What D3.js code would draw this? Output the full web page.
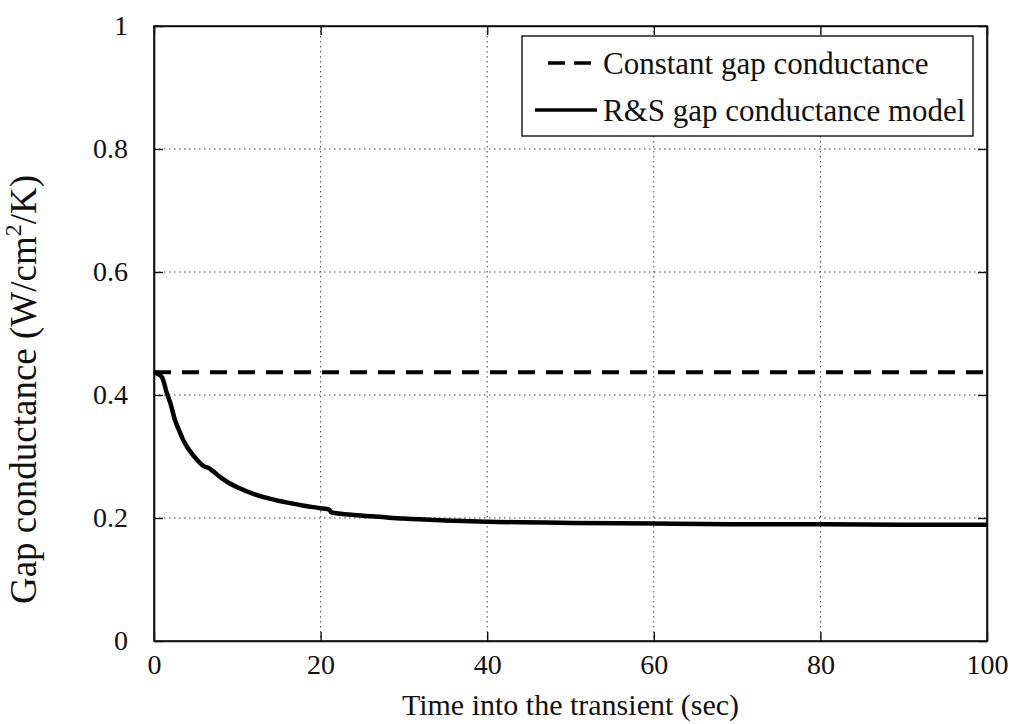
<!DOCTYPE html>
<html>
<head>
<meta charset="utf-8">
<script src="https://cdn.jsdelivr.net/npm/d3@7"></script>
<style>
  body { margin: 0; background: #fff; }
  .grid line { stroke: #444; stroke-width: 1; stroke-dasharray: 1.5, 3.5; }
</style>
</head>
<body>
<div id="chart"></div>
<script>

var serif = "'Liberation Serif', 'Times New Roman', Times, 'DejaVu Serif', serif";

// R&S gap conductance model
var times = [0, 0.5, 1, 1.5, 2, 2.5, 3, 3.5, 4, 5, 6, 6.6, 7, 8, 9, 10, 12, 14, 16, 18, 20, 21, 21.3, 24, 27, 30, 35, 40, 50, 60, 70, 80, 90, 100];
var modelValues = [0.437, 0.434, 0.428, 0.405, 0.385, 0.36, 0.343, 0.327, 0.315, 0.297, 0.284, 0.281, 0.277, 0.266, 0.257, 0.250, 0.239, 0.231, 0.225, 0.220, 0.216, 0.214, 0.209, 0.205, 0.202, 0.199, 0.196, 0.194, 0.192, 0.191, 0.190, 0.190, 0.189, 0.189];

// constant gap conductance
var constantValue = 0.437;

var xTicks = [0, 20, 40, 60, 80, 100];
var yTicks = [0, 0.2, 0.4, 0.6, 0.8, 1];
var legendLabels = ["Constant gap conductance", "R&S gap conductance model"];

var margin = {top: 26, right: 24, bottom: 83, left: 154};
var width = 1011 - margin.left - margin.right,
    height = 724 - margin.top - margin.bottom;

var svg = d3.select("#chart").append("svg")
    .attr("width", 1011)
    .attr("height", 724)
    .attr("font-family", serif)
    .append("g")
    .attr("transform", "translate(" + margin.left + "," + margin.top + ")");

var x = d3.scaleLinear().domain([0, 100]).range([0, width]);
var y = d3.scaleLinear().domain([0, 1]).range([height, 0]);

// grid
var grid = svg.append("g").attr("class", "grid");
grid.selectAll(".gx")
    .data(xTicks.slice(1, -1))
    .enter().append("line")
    .attr("x1", function(d) { return x(d); })
    .attr("x2", function(d) { return x(d); })
    .attr("y1", 0)
    .attr("y2", height);
grid.selectAll(".gy")
    .data(yTicks.slice(1, -1))
    .enter().append("line")
    .attr("x1", 0)
    .attr("x2", width)
    .attr("y1", function(d) { return y(d); })
    .attr("y2", function(d) { return y(d); });

// axes (ticks point inward, on all four sides)
var xAxis = d3.axisBottom(x).tickValues(xTicks).tickSizeInner(-9).tickSizeOuter(0).tickPadding(13)
    .tickFormat(d3.format("d"));
var yAxis = d3.axisLeft(y).tickValues(yTicks).tickSizeInner(-9).tickSizeOuter(0).tickPadding(26)
    .tickFormat(function(d) { return d === 0 || d === 1 ? d : d.toFixed(1); });

svg.append("g")
    .attr("transform", "translate(0," + height + ")")
    .call(xAxis);
svg.append("g").call(yAxis);

svg.append("g")
    .call(d3.axisTop(x).tickValues(xTicks).tickSizeInner(-9).tickSizeOuter(0).tickFormat(""));
svg.append("g")
    .attr("transform", "translate(" + width + ",0)")
    .call(d3.axisRight(y).tickValues(yTicks).tickSizeInner(-9).tickSizeOuter(0).tickFormat(""));

svg.selectAll(".domain").attr("stroke", "#111").attr("stroke-width", 1.6);
svg.selectAll(".tick line").attr("stroke", "#111").attr("stroke-width", 1.4);
svg.selectAll(".tick text")
    .attr("font-family", serif)
    .style("font-size", "28px")
    .attr("fill", "#111");
svg.selectAll("g").attr("font-family", serif);

// frame
svg.append("rect")
    .attr("width", width)
    .attr("height", height)
    .attr("fill", "none")
    .attr("stroke", "#111")
    .attr("stroke-width", 1.6);

// constant line
svg.append("line")
    .attr("x1", x(0))
    .attr("x2", x(100))
    .attr("y1", y(constantValue))
    .attr("y2", y(constantValue))
    .attr("stroke", "#000")
    .attr("stroke-width", 4)
    .attr("stroke-dasharray", "17,11");

// model curve
var line = d3.line()
    .curve(d3.curveMonotoneX)
    .x(function(d, i) { return x(times[i]); })
    .y(function(d) { return y(d); });

svg.append("path")
    .datum(modelValues)
    .attr("fill", "none")
    .attr("stroke", "#000")
    .attr("stroke-width", 4.5)
    .attr("stroke-linejoin", "round")
    .attr("d", line);

// axis labels
svg.append("text")
    .attr("x", width / 2)
    .attr("y", height + 74)
    .attr("text-anchor", "middle")
    .attr("font-family", serif)
    .attr("fill", "#111")
    .style("font-size", "30px")
    .text("Time into the transient (sec)");

var yTitle = svg.append("text")
    .attr("transform", "translate(" + (-118) + "," + (height / 2 + 56) + ") rotate(-90)")
    .attr("text-anchor", "middle")
    .attr("font-family", serif)
    .attr("fill", "#111")
    .style("font-size", "37px");
yTitle.append("tspan").text("Gap conductance (W/cm");
yTitle.append("tspan").attr("dy", -15).style("font-size", "24px").text("2");
yTitle.append("tspan").attr("dy", 15).text("/K)");

// legend
var legend = svg.append("g")
    .attr("transform", "translate(" + (522 - margin.left) + "," + (36 - margin.top) + ")");
legend.append("rect")
    .attr("width", 451)
    .attr("height", 100)
    .attr("fill", "#fff")
    .attr("stroke", "#111")
    .attr("stroke-width", 1.4);

var rows = legend.selectAll(".row")
    .data(legendLabels)
    .enter().append("g")
    .attr("transform", function(d, i) { return "translate(0," + (27 + i * 47) + ")"; });
rows.append("line")
    .attr("x1", function(d, i) { return i === 0 ? 26 : 13; })
    .attr("x2", 75)
    .attr("y1", 0)
    .attr("y2", 0)
    .attr("stroke", "#000")
    .attr("stroke-width", 3.5)
    .attr("stroke-dasharray", function(d, i) { return i === 0 ? "17,9" : null; });
rows.append("text")
    .attr("x", 81)
    .attr("dy", "0.35em")
    .attr("font-family", serif)
    .attr("fill", "#111")
    .style("font-size", "31px")
    .text(function(d) { return d; });

</script>
</body>
</html>
